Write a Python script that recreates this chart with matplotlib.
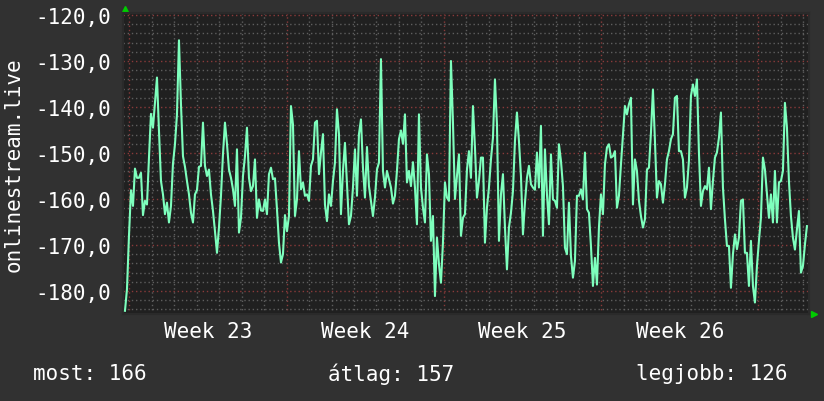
import numpy as np
import matplotlib
matplotlib.use('Agg')
import matplotlib.pyplot as plt

# values, one sample per ~2.14 h, first sample just before week 23
values = [
    -184.3, -179.6, -168.0, -158.1, -161.5, -153.4, -155.4, -155.4, -154.3, -163.5,
    -160.4, -161.2, -151.0, -141.5, -144.5, -139.1, -133.6, -145.2, -156.1, -159.0,
    -163.3, -160.8, -165.1, -161.5, -152.3, -148.1, -141.6, -125.5, -139.4, -150.7,
    -153.0, -156.1, -159.0, -163.0, -165.1, -159.0, -158.1, -153.0, -152.8, -143.4,
    -152.8, -155.0, -153.6, -159.0, -162.6, -167.0, -171.7, -166.2, -159.3, -150.3,
    -143.4, -148.0, -153.6, -155.4, -157.9, -161.5, -149.2, -167.3, -164.1, -155.0,
    -150.7, -144.5, -155.4, -158.3, -157.2, -151.4, -164.1, -160.1, -162.5, -162.6,
    -160.1, -163.3, -154.6, -153.2, -155.7, -155.5, -162.2, -169.5, -173.8, -172.0,
    -163.5, -167.0, -163.7,
    -139.8, -143.8, -163.7, -160.1, -149.6, -157.9, -156.4, -159.3, -159.0, -160.4,
    -152.8, -151.4, -143.4, -143.0, -154.6, -149.9, -145.9, -161.2, -164.8, -159.0,
    -161.5, -156.1, -152.1, -140.5, -145.9, -163.3, -153.9, -147.8, -156.8, -165.5,
    -163.7, -157.5, -149.2, -159.3, -145.9, -142.7, -153.2, -159.7, -148.7, -157.2,
    -160.4, -163.7, -159.7, -153.6, -152.1, -129.6, -153.9, -157.5, -153.9, -155.7,
    -157.5, -161.0, -159.3, -153.9, -147.0, -145.1, -148.0, -141.6, -156.4, -153.9,
    -157.2, -152.0, -157.5, -165.5, -141.6, -157.5, -161.9, -165.1, -150.3, -154.6,
    -169.1, -163.7, -181.1, -168.4, -174.2, -178.2, -169.5, -156.4, -159.7, -160.4,
    -130.0, -143.4, -160.0, -155.0, -150.3,
    -168.0, -164.1, -163.3, -153.6, -149.6, -155.4, -139.8, -148.8, -159.7, -156.1,
    -151.0, -151.0, -169.5, -161.9, -157.5, -151.4, -146.7, -134.0, -143.8, -169.1,
    -159.0, -154.6, -166.2, -175.3, -166.2, -163.0, -158.3, -147.4, -141.2, -147.4,
    -155.0, -167.7, -160.8, -155.4, -152.8, -156.8, -157.5, -158.0, -149.9, -157.5,
    -144.1, -168.0, -149.2, -159.0, -165.5, -150.3, -160.1, -160.4, -161.9, -148.1,
    -151.7, -157.2, -170.6, -172.0, -160.8, -172.4, -177.1, -173.5, -159.3, -159.3,
    -157.9, -160.1, -149.9, -162.2, -163.0, -170.2, -178.9, -172.8, -178.6, -166.2,
    -159.0, -163.3, -152.5, -148.8, -148.1, -151.0, -150.7, -149.6, -161.9, -159.3,
    -152.5, -146.3, -139.8, -141.6, -139.4,
    -138.0, -161.2, -151.4, -153.9, -160.4, -163.7, -166.2, -164.4, -153.6, -153.2,
    -145.6, -136.2, -147.4, -159.7, -156.1, -156.8, -160.8, -156.8, -151.4, -149.6,
    -147.0, -145.9, -138.0, -137.6, -149.6, -149.6, -151.4, -159.7, -157.5, -151.7,
    -137.6, -135.1, -137.6, -134.0, -149.9, -161.5, -158.3, -157.2, -157.9, -153.2,
    -162.2, -156.1, -151.0, -149.9, -146.7, -141.2, -157.5, -164.4, -170.2, -170.2,
    -179.3, -172.0, -167.7, -170.9, -168.4, -160.4, -160.1, -171.7, -171.7, -178.9,
    -169.1, -178.9, -182.5, -174.6, -169.1, -164.1, -151.0, -153.6, -159.0, -164.1,
    -159.0, -165.1, -153.9, -165.1, -156.4, -156.1, -153.9, -139.1, -144.5, -156.1,
    -163.7, -168.4, -171.0, -166.6, -162.6, -176.0, -174.6, -169.9, -165.9,
]
start_day = -0.191      # first sample, days after start of week 23
step_day = 0.089        # sample spacing in days
weeks = ['Week 23', 'Week 24', 'Week 25', 'Week 26']
yticks = [-180, -170, -160, -150, -140, -130, -120]
stats = ['most: 166', 'átlag: 157', 'legjobb: 126']

days = start_day + step_day * np.arange(len(values))

bg = '#313131'
plot_bg = '#202020'
fg = '#ffffff'
line_col = '#7effbd'
minor_col = '#5e5e5e'
major_col = '#8a3a3a'

plt.rcParams['font.family'] = ['DejaVu Sans Mono']

fig = plt.figure(figsize=(8.24, 4.02), dpi=100, facecolor=bg)
ax = fig.add_axes([0.1496, 0.2164, 0.8322, 0.7488])
ax.set_facecolor(plot_bg)

# grid: minor gray, major dark red (days / 2 units, weeks / 10 units)
for d in range(0, 31):
    col = major_col if d % 7 == 0 else minor_col
    ax.axvline(d, color=col, lw=1.0, ls=(0, (1, 2)), zorder=1)
for v in range(-184, -119, 2):
    col = major_col if v % 10 == 0 else minor_col
    ax.axhline(v, color=col, lw=1.0, ls=(0, (1, 2)), zorder=1)

ax.plot(days, values, color=line_col, lw=1.5, zorder=3)

ax.set_xlim(-0.267, 30.25)
ax.set_ylim(-185.0, -119.57)

ax.set_yticks(yticks)
ax.set_yticklabels([('%.1f' % v).replace('.', ',') for v in yticks])
ax.set_xticks([3.5, 10.5, 17.5, 24.5])
ax.set_xticklabels(weeks)
ax.tick_params(colors=fg, labelsize=15, length=0, pad=9)
ax.tick_params(axis='x', pad=5)
for sp in ax.spines.values():
    sp.set_color('#2a2a2a')
    sp.set_linewidth(1.5)

# arrows at the axis ends
ax.plot([0.003], [1.012], marker='^', color='#00cc00', ms=5, transform=ax.transAxes, clip_on=False)
ax.plot([1.008], [0.0], marker='>', color='#00cc00', ms=5, transform=ax.transAxes, clip_on=False)

fig.text(14 / 824, 1 - 165 / 402, 'onlinestream.live', rotation=90, color=fg,
         fontsize=15, ha='center', va='center')
for s, x in zip(stats, [33, 328, 636]):
    fig.text(x / 824, 1 - 374 / 402, s, color=fg, fontsize=15, ha='left', va='center')

fig.savefig('out.png', dpi=100, facecolor=bg)
